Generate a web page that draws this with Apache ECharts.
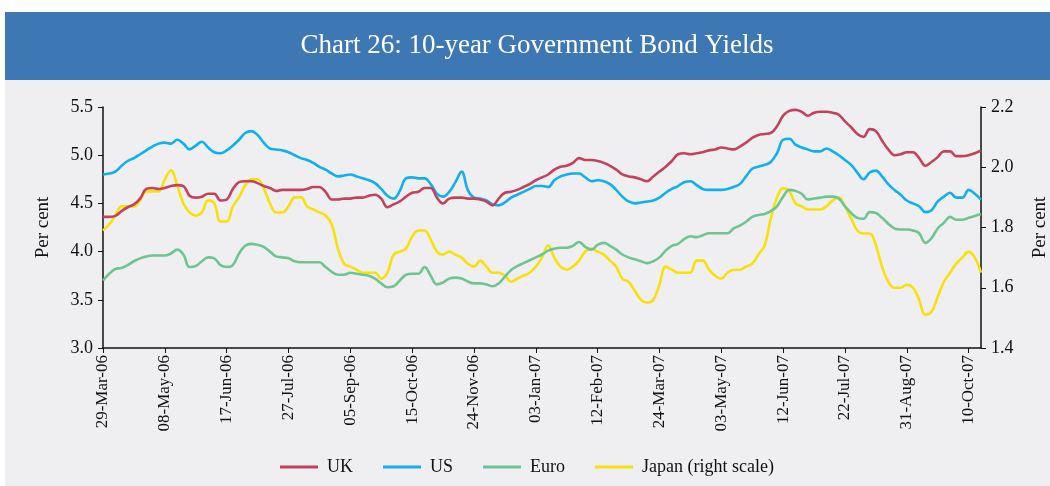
<!DOCTYPE html>
<html>
<head>
<meta charset="utf-8">
<script src="https://cdn.jsdelivr.net/npm/echarts@6/dist/echarts.min.js"></script>
<style>
  html, body { margin: 0; padding: 0; background: #fff; }
  #chart { width: 1050px; height: 486px; }
</style>
</head>
<body>
<div id="chart"></div>
<script>
// sampled every 4 days from 29-Mar-06
const startDate = Date.UTC(2006, 2, 29);
const stepDays = 4;
const months = ["Jan", "Feb", "Mar", "Apr", "May", "Jun", "Jul", "Aug", "Sep", "Oct", "Nov", "Dec"];

const uk = [
  4.36, 4.36, 4.37, 4.42, 4.46, 4.49, 4.55, 4.65, 4.66, 4.65, 4.66, 4.68, 4.69, 4.68, 4.58, 4.56, 4.57, 4.60, 4.60, 4.53, 4.54, 4.65, 4.72, 4.73, 4.73, 4.71,
  4.68, 4.66, 4.63, 4.64, 4.64, 4.64, 4.64, 4.65, 4.67, 4.67, 4.62, 4.54, 4.54, 4.55, 4.55, 4.56, 4.56, 4.58, 4.59, 4.55, 4.46, 4.49, 4.52, 4.57, 4.61, 4.62, 4.66, 4.66, 4.56, 4.50, 4.55, 4.56, 4.56, 4.55,
  4.55, 4.54, 4.52, 4.48, 4.55, 4.61, 4.62, 4.64, 4.67, 4.70, 4.74, 4.77, 4.80, 4.85, 4.88, 4.89, 4.92, 4.97, 4.95, 4.95, 4.94, 4.92, 4.89, 4.85, 4.80, 4.78, 4.77, 4.75, 4.73, 4.78, 4.83, 4.88, 4.94, 5.01, 5.02,
  5.01, 5.02, 5.03, 5.05, 5.06, 5.08, 5.07, 5.06, 5.09, 5.13, 5.18, 5.21, 5.22, 5.23, 5.30, 5.41, 5.46, 5.47, 5.45, 5.41, 5.44, 5.45, 5.45, 5.44, 5.42, 5.35, 5.29, 5.22, 5.19, 5.27, 5.25, 5.15, 5.06, 5.00, 5.01, 5.03,
  5.03, 4.97, 4.89, 4.93, 4.98, 5.04, 5.04, 4.99, 4.99, 5.00, 5.02, 5.05
];
const us = [
  4.80, 4.81, 4.83, 4.89, 4.94, 4.97, 5.01, 5.05, 5.09, 5.12, 5.13, 5.12, 5.16, 5.12, 5.06, 5.10, 5.14, 5.08, 5.03, 5.02, 5.05, 5.10, 5.16, 5.23, 5.25, 5.21,
  5.13, 5.07, 5.06, 5.05, 5.03, 5.00, 4.97, 4.95, 4.92, 4.88, 4.85, 4.81, 4.78, 4.79, 4.80, 4.78, 4.76, 4.74, 4.71, 4.65, 4.58, 4.55, 4.63, 4.76, 4.77, 4.76, 4.76, 4.70, 4.60, 4.57, 4.62, 4.72, 4.83, 4.64,
  4.56, 4.55, 4.53, 4.49, 4.48, 4.51, 4.56, 4.59, 4.62, 4.65, 4.68, 4.68, 4.67, 4.74, 4.78, 4.80, 4.81, 4.81, 4.77, 4.73, 4.74, 4.73, 4.70, 4.64, 4.57, 4.52, 4.50, 4.51, 4.52, 4.53, 4.56, 4.61, 4.65, 4.68, 4.72,
  4.73, 4.69, 4.65, 4.64, 4.64, 4.64, 4.65, 4.67, 4.70, 4.78, 4.86, 4.88, 4.90, 4.93, 5.02, 5.16, 5.17, 5.11, 5.08, 5.06, 5.04, 5.04, 5.07, 5.04, 5.00, 4.95, 4.90, 4.82, 4.75, 4.82, 4.84, 4.78, 4.70, 4.64, 4.59, 4.53,
  4.50, 4.47, 4.41, 4.43, 4.52, 4.57, 4.61, 4.56, 4.56, 4.64, 4.60, 4.54
];
const euro = [
  3.70, 3.77, 3.82, 3.83, 3.86, 3.90, 3.93, 3.95, 3.96, 3.96, 3.96, 3.98, 4.02, 3.97, 3.84, 3.85, 3.90, 3.94, 3.93, 3.86, 3.84, 3.86, 3.98, 4.06, 4.08, 4.07,
  4.05, 4.00, 3.95, 3.94, 3.93, 3.90, 3.89, 3.89, 3.89, 3.89, 3.84, 3.79, 3.76, 3.76, 3.78, 3.77, 3.76, 3.75, 3.72, 3.67, 3.63, 3.64, 3.70, 3.76, 3.77, 3.77, 3.84, 3.75, 3.66, 3.68, 3.72, 3.73, 3.72, 3.69,
  3.67, 3.67, 3.66, 3.64, 3.67, 3.74, 3.81, 3.85, 3.88, 3.91, 3.94, 3.97, 4.01, 4.03, 4.04, 4.04, 4.06, 4.10, 4.05, 4.02, 4.07, 4.09, 4.06, 4.02, 3.97, 3.94, 3.92, 3.90, 3.88, 3.90, 3.94, 4.01, 4.06, 4.08, 4.13,
  4.16, 4.15, 4.17, 4.19, 4.19, 4.19, 4.19, 4.24, 4.27, 4.31, 4.36, 4.38, 4.39, 4.42, 4.47, 4.57, 4.64, 4.63, 4.60, 4.54, 4.55, 4.56, 4.57, 4.57, 4.55, 4.47, 4.40, 4.35, 4.34, 4.41, 4.40, 4.35, 4.29, 4.24, 4.23, 4.23,
  4.22, 4.19, 4.09, 4.14, 4.24, 4.30, 4.36, 4.33, 4.33, 4.35, 4.37, 4.39
];
// right scale
const japan = [
  1.79, 1.81, 1.84, 1.87, 1.87, 1.87, 1.89, 1.92, 1.92, 1.92, 1.96, 1.99, 1.94, 1.88, 1.85, 1.84, 1.85, 1.89, 1.88, 1.82, 1.82, 1.87, 1.90, 1.94, 1.96, 1.96,
  1.93, 1.88, 1.85, 1.85, 1.87, 1.90, 1.90, 1.87, 1.86, 1.85, 1.84, 1.81, 1.73, 1.68, 1.67, 1.66, 1.65, 1.65, 1.65, 1.63, 1.65, 1.71, 1.72, 1.73, 1.77, 1.79, 1.79, 1.76, 1.72, 1.71, 1.72, 1.71, 1.70, 1.68,
  1.67, 1.69, 1.67, 1.65, 1.65, 1.64, 1.62, 1.63, 1.64, 1.65, 1.67, 1.70, 1.74, 1.70, 1.67, 1.66, 1.67, 1.69, 1.72, 1.73, 1.72, 1.71, 1.69, 1.67, 1.63, 1.62, 1.59, 1.56, 1.55, 1.56, 1.61, 1.67, 1.66, 1.65, 1.65,
  1.65, 1.69, 1.69, 1.66, 1.64, 1.63, 1.65, 1.66, 1.66, 1.67, 1.68, 1.71, 1.74, 1.83, 1.90, 1.93, 1.92, 1.88, 1.87, 1.86, 1.86, 1.86, 1.87, 1.89, 1.90, 1.87, 1.83, 1.79, 1.78, 1.78, 1.74, 1.67, 1.62, 1.60, 1.60, 1.61,
  1.60, 1.56, 1.51, 1.52, 1.57, 1.62, 1.65, 1.68, 1.70, 1.72, 1.70, 1.65
];

const seriesNames = ["UK", "US", "Euro", "Japan (right scale)"];
const colors = ["#c2425c", "#0fb0ec", "#6fc592", "#f8e10a"];

function fmt(t) {
  const d = new Date(t);
  const dd = String(d.getUTCDate()).padStart(2, "0");
  const yy = String(d.getUTCFullYear()).slice(2);
  return dd + "-" + months[d.getUTCMonth()] + "-" + yy;
}
const dates = uk.map((_, i) => fmt(startDate + i * stepDays * 86400000));

const font = "'Liberation Serif', 'DejaVu Serif', serif";
const chart = echarts.init(document.getElementById("chart"));

function line(name, data, color, axis) {
  return {
    name, type: "line", data, yAxisIndex: axis,
    smooth: 0.4, showSymbol: false,
    lineStyle: { color, width: 2.6 },
    itemStyle: { color },
  };
}

function valueAxis(min, max, step, gap) {
  return {
    type: "value", min, max, interval: step,
    name: "Per cent", nameLocation: "middle", nameGap: gap, nameRotate: 90,
    nameTextStyle: { fontSize: 19, color: "#111", fontFamily: font },
    axisLine: { show: true, lineStyle: { color: "#111", width: 1.5 } },
    axisTick: { show: true, length: 5, lineStyle: { color: "#111" } },
    axisLabel: { fontSize: 18, color: "#111", margin: 10, formatter: v => v.toFixed(1), fontFamily: font },
    splitLine: { show: false },
  };
}

chart.setOption({
  animation: false,
  textStyle: { fontFamily: font },
  graphic: [
    { type: "rect", z: -10, shape: { x: 5, y: 12, width: 1045, height: 68 }, style: { fill: "#3d78b4" } },
    { type: "rect", z: -10, shape: { x: 5, y: 80, width: 1045, height: 406 }, style: { fill: "#efeff2" } },
    {
      type: "text", x: 537, y: 46,
      style: { text: "Chart 26: 10-year Government Bond Yields", fill: "#fff", font: "27px " + font, align: "center", verticalAlign: "middle" },
    },
  ],
  legend: {
    data: seriesNames,
    left: 275, top: 453,
    icon: "rect", itemWidth: 38, itemHeight: 3, itemGap: 30,
    textStyle: { fontSize: 18, color: "#111", fontFamily: font, padding: [0, 0, 0, 4] },
  },
  grid: { left: 103, right: 69, top: 107, bottom: 138, outerBoundsMode: "none", containLabel: false },
  xAxis: {
    type: "category", data: dates, boundaryGap: false,
    axisLine: { lineStyle: { color: "#111", width: 1.5 } },
    axisTick: { interval: 9, length: 5, lineStyle: { color: "#111" } },
    axisLabel: { interval: 9, rotate: 90, fontSize: 17, color: "#111", margin: 7, fontFamily: font },
  },
  yAxis: [valueAxis(3, 5.5, 0.5, 50), valueAxis(1.4, 2.2, 0.2, 50)],
  series: [
    line(seriesNames[3], japan, colors[3], 1),
    line(seriesNames[2], euro, colors[2], 0),
    line(seriesNames[1], us, colors[1], 0),
    line(seriesNames[0], uk, colors[0], 0),
  ],
});
</script>
</body>
</html>
